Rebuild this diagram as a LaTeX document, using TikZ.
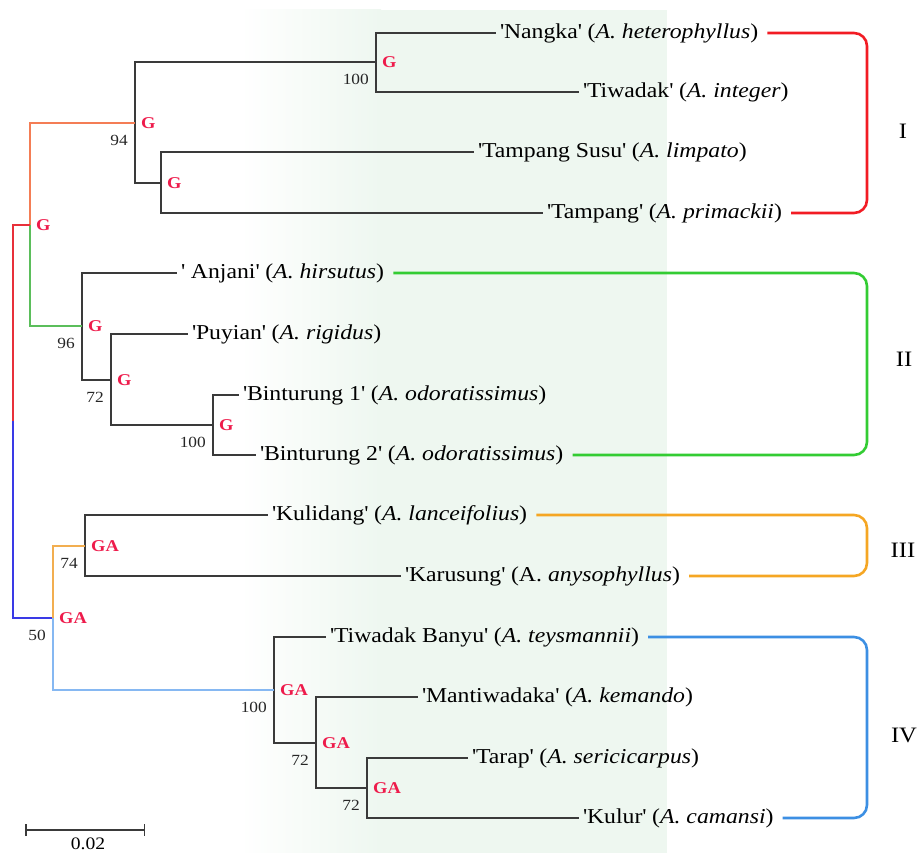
\documentclass[tikz,border=0pt]{standalone}
\usepackage{fontspec}
\setmainfont{Liberation Serif}[FakeStretch=1.12]
\usetikzlibrary{arrows.meta}
\definecolor{treeg}{HTML}{3A3A3A}
\definecolor{labred}{HTML}{EE1B4B}
\definecolor{bgg}{HTML}{EEF7F0}
\definecolor{brred}{HTML}{F21C24}
\definecolor{brgreen}{HTML}{33CC33}
\definecolor{brorange}{HTML}{F5A623}
\definecolor{brblue}{HTML}{3C8FE3}
\definecolor{cI}{HTML}{F47D55}
\definecolor{cII}{HTML}{5BBE5B}
\definecolor{rootred}{HTML}{E8303A}
\definecolor{rootblue}{HTML}{3A3AE6}
\definecolor{cIII}{HTML}{F2AE50}
\definecolor{cIV}{HTML}{86B8F2}
\newcommand{\myq}{\textquotesingle}
\tikzset{
  tree/.style={draw=treeg, line width=1.5pt},
  cbranch/.style={line width=1.5pt},
  tip/.style={anchor=west, inner xsep=4pt, inner ysep=1pt, font=\fontsize{21.2}{24}\selectfont},
  glab/.style={anchor=west, inner sep=0pt, xshift=6pt, text=labred, font=\fontsize{16.5}{17}\selectfont\bfseries},
  bs/.style={anchor=east, inner sep=0pt, xshift=-7pt, yshift=-17pt, font=\fontsize{15.5}{17}\selectfont, text=black!85},
  bracket/.style={line width=2.6pt, rounded corners=13pt, shorten <=5pt, shorten >=5pt},
  clade/.style={font=\fontsize{22}{24}\selectfont},
}
\begin{document}
\begin{tikzpicture}[x=1pt,y=-1pt]
\useasboundingbox (0,0) rectangle (920,853);
% background tint
\shade[left color=white, right color=bgg] (240,10) rectangle (381,853);
\fill[bgg] (380,10) rectangle (667,853);

% internal nodes
\coordinate (a12) at (376,62);
\coordinate (a34) at (161,183);
\coordinate (aI) at (135,123);
\coordinate (a78) at (213,425);
\coordinate (a678) at (111,380);
\coordinate (aII) at (82,326);
\coordinate (aIandII) at (30,225);
\coordinate (a910) at (85,546);
\coordinate (a1314) at (367,788);
\coordinate (a121314) at (316,743);
\coordinate (aIV) at (274,690);
\coordinate (aIIIandIV) at (53,618);
\coordinate (root) at (13,421);

% tips
\node[tip] (t1) at (496,33) {\myq Nangka\myq\ (\textit{A. heterophyllus})};
\node[tip] (t2) at (579,92) {\myq Tiwadak\myq\ (\textit{A. integer})};
\node[tip] (t3) at (474,152) {\myq Tampang Susu\myq\ (\textit{A. limpato})};
\node[tip] (t4) at (543,213) {\myq Tampang\myq\ (\textit{A. primackii})};
\node[tip] (t5) at (177,273) {\myq\ Anjani\myq\ (\textit{A. hirsutus})};
\node[tip] (t6) at (188,334) {\myq Puyian\myq\ (\textit{A. rigidus})};
\node[tip] (t7) at (239,395) {\myq Binturung 1\myq\ (\textit{A. odoratissimus})};
\node[tip] (t8) at (256,455) {\myq Binturung 2\myq\ (\textit{A. odoratissimus})};
\node[tip] (t9) at (268,515) {\myq Kulidang\myq\ (\textit{A. lanceifolius})};
\node[tip] (t10) at (401,576) {\myq Karusung\myq\ (A. \textit{anysophyllus})};
\node[tip] (t11) at (326,637) {\myq Tiwadak Banyu\myq\ (\textit{A. teysmannii})};
\node[tip] (t12) at (418,697) {\myq Mantiwadaka\myq\ (\textit{A. kemando})};
\node[tip] (t13) at (468,758) {\myq Tarap\myq\ (\textit{A. sericicarpus})};
\node[tip] (t14) at (579,818) {\myq Kulur\myq\ (\textit{A. camansi})};

% black tree edges
\draw[tree] (a12) |- (t1.west);
\draw[tree] (a12) |- (t2.west);
\draw[tree] (a34) |- (t3.west);
\draw[tree] (a34) |- (t4.west);
\draw[tree] (aI) |- (a12);
\draw[tree] (aI) |- (a34);
\draw[tree] (a78) |- (t7.west);
\draw[tree] (a78) |- (t8.west);
\draw[tree] (a678) |- (t6.west);
\draw[tree] (a678) |- (a78);
\draw[tree] (aII) |- (t5.west);
\draw[tree] (aII) |- (a678);
\draw[tree] (a910) |- (t9.west);
\draw[tree] (a910) |- (t10.west);
\draw[tree] (a1314) |- (t13.west);
\draw[tree] (a1314) |- (t14.west);
\draw[tree] (a121314) |- (t12.west);
\draw[tree] (a121314) |- (a1314);
\draw[tree] (aIV) |- (t11.west);
\draw[tree] (aIV) |- (a121314);

% coloured deep branches
\draw[cbranch, cI] (aIandII) |- (aI);
\draw[cbranch, cII] (aIandII) |- (aII);
\draw[cbranch, rootred] (root) |- (aIandII);
\draw[cbranch, rootblue] (root) |- (aIIIandIV);
\draw[cbranch, cIII] (aIIIandIV) |- (a910);
\draw[cbranch, cIV] (aIIIandIV) |- (aIV);

% node labels
\node[glab] (g1) at (a12) {G};
\node[glab] (g2) at (a34) {G};
\node[glab] (g3) at (aI) {G};
\node[glab] (g4) at (aIandII) {G};
\node[glab] (g5) at (aII) {G};
\node[glab] (g6) at (a678) {G};
\node[glab] (g7) at (a78) {G};
\node[glab] (g8) at (a910) {GA};
\node[glab] (g9) at (aIIIandIV) {GA};
\node[glab] (g10) at (aIV) {GA};
\node[glab] (g11) at (a121314) {GA};
\node[glab] (g12) at (a1314) {GA};

% bootstrap values
\node[bs] (b1) at (a12) {100};
\node[bs] (b2) at (aI) {94};
\node[bs] (b3) at (aII) {96};
\node[bs] (b4) at (a678) {72};
\node[bs] (b5) at (a78) {100};
\node[bs] (b6) at (a910) {74};
\node[bs] (b7) at (aIIIandIV) {50};
\node[bs] (b8) at (aIV) {100};
\node[bs] (b9) at (a121314) {72};
\node[bs] (b10) at (a1314) {72};

% clade brackets
\coordinate (kI) at (867,123);
\coordinate (kII) at (867,364);
\coordinate (kIII) at (867,546);
\coordinate (kIV) at (867,728);
\draw[bracket, brred] (t1.east) -| (kI) |- (t4.east);
\draw[bracket, brgreen] (t5.east) -| (kII) |- (t8.east);
\draw[bracket, brorange] (t9.east) -| (kIII) |- (t10.east);
\draw[bracket, brblue] (t11.east) -| (kIV) |- (t14.east);
\node[clade] (cl1) at (903,131) {I};
\node[clade] (cl2) at (904,359) {II};
\node[clade] (cl3) at (903,550) {III};
\node[clade] (cl4) at (904,735) {IV};

% scale bar
\coordinate (sbL) at (25,830);
\coordinate (sbR) at (145,830);
\draw[line width=1.5pt, draw=treeg, {Bar[width=12pt]}-{Bar[width=12pt]}] (sbL) -- (sbR);
\node[font=\fontsize{17.5}{19}\selectfont, anchor=north, inner sep=1pt] (sblab) at (88,837) {0.02};
\end{tikzpicture}
\end{document}
